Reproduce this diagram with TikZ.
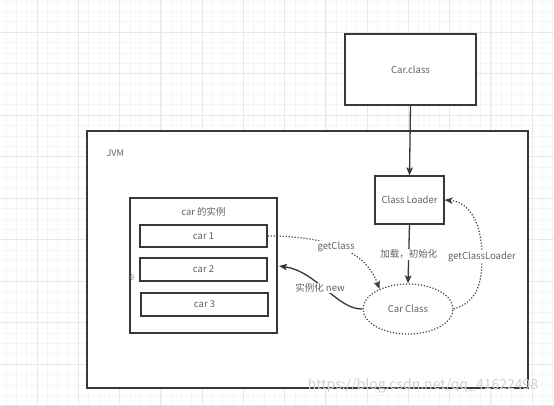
\documentclass[tikz,border=0pt]{standalone}
\usepackage{fontspec}
\setmainfont{Noto Sans CJK SC}
\usetikzlibrary{arrows.meta,shapes.geometric}
\begin{document}
\begin{tikzpicture}[x=1pt,y=-1pt,
  box/.style={draw=black!78, line width=1.2pt, fill=white, inner sep=0pt, text=black!62, font=\fontsize{9.5}{11}\selectfont},
  lbl/.style={text=black!62, font=\fontsize{9.5}{11}\selectfont, fill=white, inner sep=1pt},
  dotline/.style={draw=black!75, line width=1.2pt, dash pattern=on 1.2pt off 1.8pt},
  solidline/.style={draw=black!78, line width=1.3pt},
  tip/.style={-{Stealth[length=8pt,width=6.5pt,inset=1.8pt]}},
  minorgrid/.style={draw=black!4, line width=0.5pt},
  majorgrid/.style={draw=black!9, line width=0.6pt}]
\useasboundingbox (0,0) rectangle (554,405);
\fill[white] (0,0) rectangle (554,405);
% background grid
\foreach \i in {0,...,55} {
  \draw[minorgrid] ({-4.25+10.3125*\i},0) -- ({-4.25+10.3125*\i},405);
}
\foreach \i in {0,...,40} {
  \draw[minorgrid] (0,{-9.5+10.375*\i}) -- (554,{-9.5+10.375*\i});
}
\foreach \i in {0,...,14} {
  \draw[majorgrid] ({-4.25+41.25*\i},0) -- ({-4.25+41.25*\i},405);
}
\foreach \i in {0,...,10} {
  \draw[majorgrid] (0,{-9.5+41.5*\i}) -- (554,{-9.5+41.5*\i});
}
% boxes
\node[box, minimum width=441pt, minimum height=257pt] (jvm) at (307.5,259.5) {};
\node[text=black!62, font=\fontsize{9}{10}\selectfont, anchor=west] (jvmlbl) at (103,153) {JVM};
\node[box, minimum width=131pt, minimum height=71pt] (carfile) at (410.5,69.5) {Car.class};
\node[box, minimum width=69pt, minimum height=48pt] (cl) at (409.5,200) {Class Loader};
\node[box, minimum width=147pt, minimum height=135pt] (inst) at (203.5,265.5) {};
\node[text=black!62, font=\fontsize{9.5}{11}\selectfont] (instlbl) at (203.5,212) {car 的实例};
\node[box, line width=1.1pt, minimum width=127pt, minimum height=22pt] (car1) at (203.5,236) {car 1};
\node[box, line width=1.1pt, minimum width=127pt, minimum height=23pt] (car2) at (203.5,269.5) {car 2};
\node[box, line width=1.1pt, minimum width=127pt, minimum height=23pt] (car3) at (204.5,304.5) {car 3};
\node[text=black!55, font=\fontsize{8}{9}\selectfont, inner sep=0pt] (mark) at (131.5,277.5) {※};
\node[ellipse, dotline, fill=white, minimum width=90pt, minimum height=50pt, inner sep=0pt,
      text=black!62, font=\fontsize{9.5}{11}\selectfont] (cc) at (408,309) {Car Class};
\coordinate (newend) at (279,266);
% connectors
\draw[solidline, tip] (carfile.south) -- (cl.north);
\draw[solidline, tip] (cl.south) -- node[lbl] {加载，初始化} (cc.north);
\draw[dotline, tip] (car1.east) .. controls (330,236) and (366,252) .. (cc.145);
\node[lbl] (gclbl) at (336,247) {getClass};
\draw[dotline, tip] (cc.east) .. controls (478,302) and (482,282) .. (482,257)
   .. controls (482,224) and (470,202) .. (cl.east);
\node[lbl] (gcllbl) at (482,257) {getClassLoader};
\draw[solidline, tip] (cc.west) .. controls (338,310) and (316,271) .. (newend);
\node[lbl] (newlbl) at (320,288) {实例化 new};
% watermark
\node[text=black!18, font=\fontsize{14}{15}\selectfont, inner sep=0pt] (wm) at (423,386) {https://blog.csdn.net/qq\_41622498};
\end{tikzpicture}
\end{document}
